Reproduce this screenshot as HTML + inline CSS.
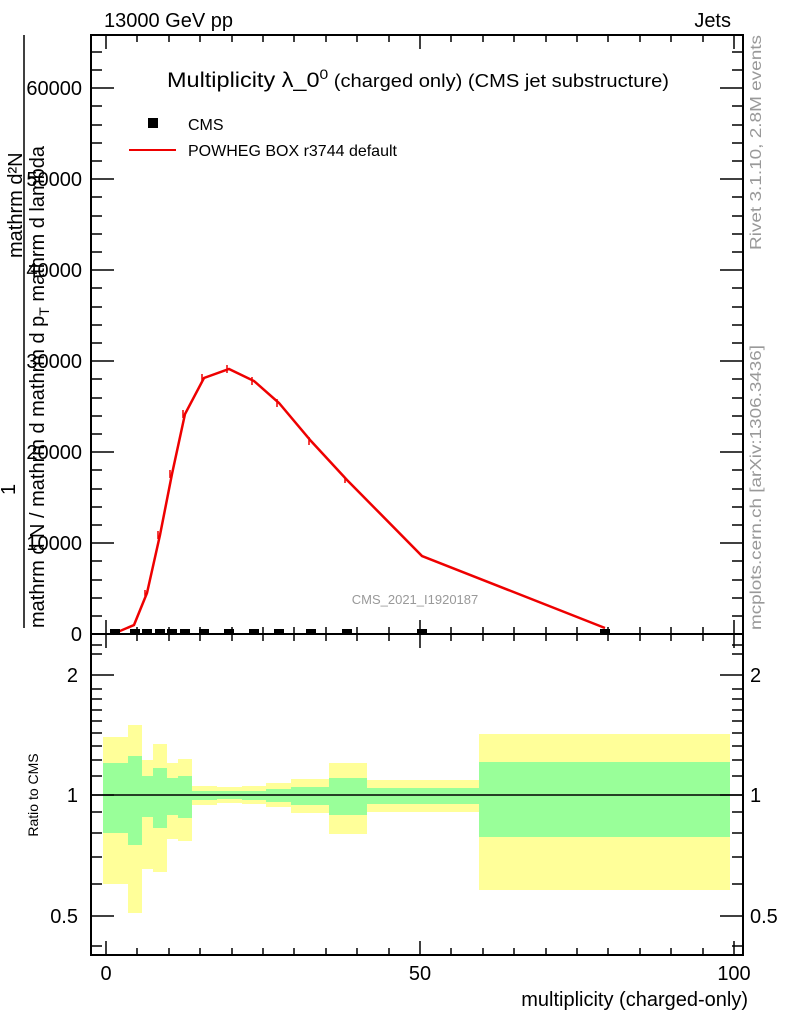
<!DOCTYPE html><html><head><style>body{margin:0;background:#fff}svg{display:block;font-family:"Liberation Sans",sans-serif}</style></head><body>
<svg width="786" height="1024" viewBox="0 0 786 1024">
<rect width="786" height="1024" fill="#fff"/>
<text x="104" y="27" font-size="20">13000 GeV pp</text>
<text x="731" y="27" font-size="20" text-anchor="end">Jets</text>
<text x="167" y="87" font-size="21" textLength="502" lengthAdjust="spacingAndGlyphs">Multiplicity λ_0<tspan dy="-8" font-size="14">0</tspan><tspan dy="8" font-size="18"> (charged only) (CMS jet substructure)</tspan></text>
<rect x="148" y="118" width="10" height="10" fill="#000"/>
<text x="188" y="130" font-size="16">CMS</text>
<line x1="129" y1="150" x2="176" y2="150" stroke="#e00" stroke-width="2"/>
<text x="188" y="156" font-size="16">POWHEG BOX r3744 default</text>
<text x="415" y="604" font-size="13" fill="#999" text-anchor="middle">CMS_2021_I1920187</text>
<g fill="#999" font-size="16"><text transform="translate(761,250) rotate(-90)" textLength="215" lengthAdjust="spacingAndGlyphs">Rivet 3.1.10,  2.8M events</text>
<text transform="translate(761,630) rotate(-90)" textLength="285" lengthAdjust="spacingAndGlyphs">mcplots.cern.ch [arXiv:1306.3436]</text></g>
<g>
<rect x="103" y="737" width="25" height="147" fill="#ffff99"/><rect x="103" y="763" width="25" height="70" fill="#99ff99"/>
<rect x="128" y="725" width="14" height="188" fill="#ffff99"/><rect x="128" y="756" width="14" height="89" fill="#99ff99"/>
<rect x="142" y="760" width="11" height="109" fill="#ffff99"/><rect x="142" y="776" width="11" height="41" fill="#99ff99"/>
<rect x="153" y="744" width="14" height="128" fill="#ffff99"/><rect x="153" y="768" width="14" height="60" fill="#99ff99"/>
<rect x="167" y="763" width="11" height="76" fill="#ffff99"/><rect x="167" y="778" width="11" height="37" fill="#99ff99"/>
<rect x="178" y="759" width="14" height="82" fill="#ffff99"/><rect x="178" y="776" width="14" height="42" fill="#99ff99"/>
<rect x="192" y="786" width="25" height="19" fill="#ffff99"/><rect x="192" y="791" width="25" height="9" fill="#99ff99"/>
<rect x="217" y="787" width="25" height="16" fill="#ffff99"/><rect x="217" y="791" width="25" height="8" fill="#99ff99"/>
<rect x="242" y="786" width="24" height="18" fill="#ffff99"/><rect x="242" y="791" width="24" height="9" fill="#99ff99"/>
<rect x="266" y="783" width="25" height="24" fill="#ffff99"/><rect x="266" y="789" width="25" height="13" fill="#99ff99"/>
<rect x="291" y="779" width="38" height="34" fill="#ffff99"/><rect x="291" y="787" width="38" height="18" fill="#99ff99"/>
<rect x="329" y="763" width="38" height="71" fill="#ffff99"/><rect x="329" y="778" width="38" height="37" fill="#99ff99"/>
<rect x="367" y="780" width="112" height="32" fill="#ffff99"/><rect x="367" y="788" width="112" height="16" fill="#99ff99"/>
<rect x="479" y="734" width="251" height="156" fill="#ffff99"/><rect x="479" y="762" width="251" height="75" fill="#99ff99"/>
</g>
<line x1="91" y1="795" x2="743" y2="795" stroke="#000" stroke-width="1.5"/>
<polyline fill="none" stroke="#e00" stroke-width="2.5" points="113,634 134,625 147,593 160,535 172,474 185,414 204,378 229,369 254,381 279,403 311,441 347,480 422,556 605,628"/>
<g stroke="#e00" stroke-width="1.5"><path d="M145,590v6M158,531v8M170,470v8M183,410v8M202,374v8M227,365v8M252,377v8M277,399v8M309,437v8M345,477v6"/></g>
<g fill="#000"><rect x="110" y="629" width="10" height="6"/><rect x="130" y="629" width="10" height="6"/><rect x="142" y="629" width="10" height="6"/><rect x="155" y="629" width="10" height="6"/><rect x="167" y="629" width="10" height="6"/><rect x="180" y="629" width="10" height="6"/><rect x="199" y="629" width="10" height="6"/><rect x="224" y="629" width="10" height="6"/><rect x="249" y="629" width="10" height="6"/><rect x="274" y="629" width="10" height="6"/><rect x="306" y="629" width="10" height="6"/><rect x="342" y="629" width="10" height="6"/><rect x="417" y="629" width="10" height="6"/><rect x="600" y="629" width="10" height="6"/></g>
<g fill="none" stroke="#000" stroke-width="2"><rect x="91" y="35" width="652" height="599"/><rect x="91" y="634" width="652" height="321"/></g>
<g stroke="#000" stroke-width="1.5">
<path d="M106,634v-14M420,634v-14M734,634v-14M106,35v14M420,35v14M734,35v14M106,634v14M420,634v14M734,634v14M106,955v-14M420,955v-14M734,955v-14"/>
<path d="M137,634v-7M169,634v-7M200,634v-7M232,634v-7M263,634v-7M294,634v-7M326,634v-7M357,634v-7M389,634v-7M451,634v-7M483,634v-7M514,634v-7M546,634v-7M577,634v-7M608,634v-7M640,634v-7M671,634v-7M703,634v-7M137,35v7M169,35v7M200,35v7M232,35v7M263,35v7M294,35v7M326,35v7M357,35v7M389,35v7M451,35v7M483,35v7M514,35v7M546,35v7M577,35v7M608,35v7M640,35v7M671,35v7M703,35v7"/>
<path d="M137,955v-7M169,955v-7M200,955v-7M232,955v-7M263,955v-7M294,955v-7M326,955v-7M357,955v-7M389,955v-7M451,955v-7M483,955v-7M514,955v-7M546,955v-7M577,955v-7M608,955v-7M640,955v-7M671,955v-7M703,955v-7M137,634v7M169,634v7M200,634v7M232,634v7M263,634v7M294,634v7M326,634v7M357,634v7M389,634v7M451,634v7M483,634v7M514,634v7M546,634v7M577,634v7M608,634v7M640,634v7M671,634v7M703,634v7"/>
<path d="M91,543h23M91,452h23M91,361h23M91,270h23M91,179h23M91,88h23M743,543h-23M743,452h-23M743,361h-23M743,270h-23M743,179h-23M743,88h-23"/>
<path d="M91,616h11M91,598h11M91,580h11M91,561h11M91,525h11M91,507h11M91,489h11M91,470h11M91,434h11M91,416h11M91,398h11M91,379h11M91,343h11M91,325h11M91,307h11M91,288h11M91,252h11M91,234h11M91,216h11M91,197h11M91,161h11M91,143h11M91,125h11M91,106h11M91,70h11M91,52h11"/>
<path d="M743,616h-11M743,598h-11M743,580h-11M743,561h-11M743,525h-11M743,507h-11M743,489h-11M743,470h-11M743,434h-11M743,416h-11M743,398h-11M743,379h-11M743,343h-11M743,325h-11M743,307h-11M743,288h-11M743,252h-11M743,234h-11M743,216h-11M743,197h-11M743,161h-11M743,143h-11M743,125h-11M743,106h-11M743,70h-11M743,52h-11"/>
<path d="M91,675h23M91,795h23M91,916h23M743,675h-23M743,795h-23M743,916h-23"/>
<path d="M91,946h11M91,884h11M91,857h11M91,833h11M91,812h11M91,776h11M91,760h11M91,746h11M91,733h11M91,721h11M91,710h11M91,699h11M91,689h11M91,654h11M91,645h11M743,946h-11M743,884h-11M743,857h-11M743,833h-11M743,812h-11M743,776h-11M743,760h-11M743,746h-11M743,733h-11M743,721h-11M743,710h-11M743,699h-11M743,689h-11M743,654h-11M743,645h-11"/>
</g>
<g font-size="20" text-anchor="end">
<text x="82" y="95">60000</text><text x="82" y="186">50000</text><text x="82" y="277">40000</text><text x="82" y="368">30000</text><text x="82" y="459">20000</text><text x="82" y="550">10000</text><text x="82" y="641">0</text>
<text x="78" y="682">2</text><text x="78" y="802">1</text><text x="78" y="923">0.5</text>
</g>
<g font-size="20"><text x="750" y="682">2</text><text x="750" y="802">1</text><text x="750" y="923">0.5</text></g>
<g font-size="20" text-anchor="middle"><text x="106" y="980">0</text><text x="420" y="980">50</text><text x="734" y="980">100</text></g>
<text x="748" y="1006" font-size="20" text-anchor="end">multiplicity (charged-only)</text>
<text transform="translate(38,795) rotate(-90)" font-size="14" text-anchor="middle">Ratio to CMS</text>
<g font-size="20">
<text transform="translate(22,258) rotate(-90)">mathrm d²N</text>
<line x1="24" y1="628" x2="24" y2="35" stroke="#000" stroke-width="1.5"/>
<text transform="translate(15,495) rotate(-90)">1</text>
<text transform="translate(44,628) rotate(-90)">mathrm d N / mathrm d mathrm d p<tspan font-size="14" dy="5">T</tspan><tspan dy="-5"> mathrm d lambda</tspan></text>
</g>
</svg></body></html>
